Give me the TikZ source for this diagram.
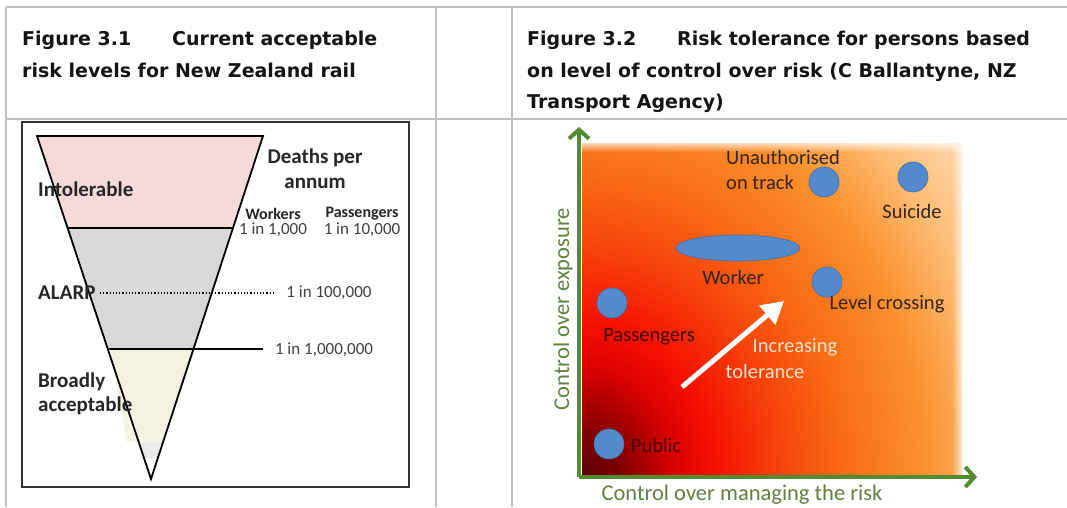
\documentclass[tikz,border=0pt]{standalone}
\usepackage{fontspec}
\setmainfont{Carlito}
\newfontfamily\headfont{DejaVu Sans}
\usetikzlibrary{arrows.meta,shapes.geometric,fadings}

\definecolor{rulegray}{RGB}{192,192,192}
\definecolor{pinkzone}{RGB}{246,218,218}
\definecolor{grayzone}{RGB}{216,216,216}
\definecolor{yellowzone}{RGB}{243,243,224}
\definecolor{axisgreen}{RGB}{82,140,50}
\definecolor{labelgreen}{RGB}{98,128,62}
\definecolor{dotblue}{RGB}{82,138,204}
\definecolor{dotedge}{RGB}{66,112,170}
\definecolor{labeltext}{RGB}{52,36,30}
\definecolor{darklab}{RGB}{70,8,4}
\definecolor{palelab}{RGB}{255,226,204}

\pgfdeclareradialshading{riskshade}{\pgfpointorigin}{%
	color(0bp)=(rgb,255:red,95;green,0;blue,0);
	color(35bp)=(rgb,255:red,125;green,0;blue,0);
	color(90bp)=(rgb,255:red,215;green,0;blue,0);
	color(130bp)=(rgb,255:red,245;green,15;blue,0);
	color(190bp)=(rgb,255:red,246;green,62;blue,10);
	color(260bp)=(rgb,255:red,248;green,108;blue,20);
	color(340bp)=(rgb,255:red,250;green,145;blue,45);
	color(410bp)=(rgb,255:red,253;green,188;blue,115);
	color(470bp)=(rgb,255:red,255;green,214;blue,170);
	color(530bp)=(rgb,255:red,255;green,232;blue,205)}
\tikzfading[name=edgetop, top color=transparent!0, bottom color=transparent!100]
\tikzfading[name=edgeright, right color=transparent!0, left color=transparent!100]

\begin{document}
\begin{tikzpicture}[x=1pt,y=-1pt,
	rule/.style={draw=rulegray, line width=1.4pt},
	head/.style={font=\headfont\bfseries\fontsize{19}{19}\selectfont, anchor=base west, inner sep=0pt, text=black!92},
	tri/.style={draw=black, line width=1.8pt},
	zone/.style={font=\bfseries\fontsize{21}{21}\selectfont, anchor=west, inner sep=0pt, text=black!85},
	group/.style={font=\bfseries\fontsize{16}{16}\selectfont, inner sep=0pt, text=black!85},
	rate/.style={font=\fontsize{17}{17}\selectfont, inner sep=0pt, text=black!75},
	lab/.style={font=\fontsize{20.5}{21}\selectfont, inner sep=0pt, text=labeltext},
	axlab/.style={font=\fontsize{22.5}{23}\selectfont, inner sep=0pt, text=labelgreen},
	dot/.style={circle, fill=dotblue, draw=dotedge, line width=0.6pt, minimum size=30pt, inner sep=0pt},
	axis/.style={draw=axisgreen, line width=4pt, -{Straight Barb[length=9pt,width=20pt]}},
	tolarrow/.style={draw=white, line width=5pt, -{Triangle[length=22pt,width=24pt]}}]
	\useasboundingbox (0,0) rectangle (1067,507);
	\fill[white] (0,0) rectangle (1067,507);

	% table rules
	\draw[rule] (6,7) -- (1067,7);
	\draw[rule] (6,119) -- (1067,119);
	\draw[rule] (6,7) -- (6,507);
	\draw[rule] (436,7) -- (436,507);
	\draw[rule] (512,7) -- (512,507);

	% headings
	\node[head] (h1a) at (22,45) {Figure 3.1};
	\node[head] (h1b) at (172,45) {Current acceptable};
	\node[head] (h1c) at (22,77) {risk levels for New Zealand rail};
	\node[head] (h2a) at (527,45) {Figure 3.2};
	\node[head] (h2b) at (677,45) {Risk tolerance for persons based};
	\node[head] (h2c) at (527,77) {on level of control over risk (C Ballantyne, NZ};
	\node[head] (h2d) at (527,108) {Transport Agency)};

	% figure 3.1 - triangle
	\draw[draw=black!80, line width=2pt, fill=white] (22,122) rectangle (409,487);
	\fill[pinkzone] (37,136) -- (263,136) -- (233,228) -- (67.6,228) -- cycle;
	\fill[grayzone] (67.6,228) -- (233,228) -- (193.4,349) -- (107.8,349) -- cycle;
	\fill[yellowzone] (110,349) -- (195,349) -- (164,442) -- (127,442) -- cycle;
	\fill[black!8] (138.7,442) -- (163,442) -- (158,458) -- (144,458) -- cycle;
	\draw[tri] (37,136) -- (263,136) -- (151,479) -- cycle;
	\draw[tri] (67.6,228) -- (233,228);
	\draw[tri, line width=1.4pt] (107.8,349) -- (263,349);
	\draw[line width=1.2pt, dotted] (100,293) -- (273,293);%ALARP Linie

	\node[zone] (intol) at (38,189) {Intolerable};
	\node[zone] (alarp) at (38,293) {ALARP};
	\node[zone] (broadA) at (38,382) {Broadly};
	\node[zone] (broadB) at (38,406) {acceptable};
	\node[zone, anchor=center] (deathsA) at (315,158) {Deaths per};
	\node[zone, anchor=center] (deathsB) at (315,183) {annum};
	\node[group] (workers) at (273,214) {Workers};
	\node[group] (passgrp) at (362,214) {Passengers};
	\node[rate] (workrate) at (273,230) {1 in 1,000};
	\node[rate] (passrate) at (362,230) {1 in 10,000};
	\node[rate] (alarprate) at (329,293) {1 in 100,000};
	\node[rate] (broadrate) at (324,350) {1 in 1,000,000};

	% figure 3.2 - tolerance plot
	\begin{scope}
		\clip (582,143) rectangle (962,475);
		\node[inner sep=0pt, yscale=1.15, transform shape] (glow) at (582,475) {\pgfuseshading{riskshade}};
	\end{scope}
	\fill[white, path fading=edgetop] (582,139) rectangle (966,152);
	\fill[white, path fading=edgeright] (952,139) rectangle (966,476);

	\coordinate (orig) at (579,477);
	\coordinate (ytop) at (579,127);
	\coordinate (xend) at (977,477);
	\draw[axis] (orig) -- (ytop);
	\draw[axis] (orig) -- (xend);
	\node[axlab, rotate=90] (ylab) at (563,309) {Control over exposure};
	\node[axlab] (xlab) at (742,495) {Control over managing the risk};

	\node[dot] (unauth) at (824,182) {};
	\node[dot] (suicide) at (913,177) {};
	\node[ellipse, fill=dotblue, draw=dotedge, line width=0.6pt, minimum width=124pt, minimum height=26pt, inner sep=0pt] (worker) at (738,248) {};
	\node[dot] (level) at (827,282) {};
	\node[dot] (pass) at (612,303) {};
	\node[dot] (public) at (609,444) {};

	\node[lab] (unauthA) at (783,157) {Unauthorised};
	\node[lab] (unauthB) at (760,182) {on track};
	\node[lab] (suicidelab) at (912,211) {Suicide};
	\node[lab] (workerlab) at (733,277) {Worker};
	\node[lab] (levellab) at (887,304) {Level crossing};
	\node[lab, text=darklab] (passlab) at (649,337) {Passengers};
	\node[lab, text=darklab] (publiclab) at (656,445) {Public};
	\node[lab, text=palelab] (incA) at (795,347) {Increasing};
	\node[lab, text=palelab] (incB) at (765,371) {tolerance};

	\coordinate (tolA) at (682,387);
	\coordinate (tolB) at (784,301);
	\draw[tolarrow] (tolA) -- (tolB);
\end{tikzpicture}
\end{document}
